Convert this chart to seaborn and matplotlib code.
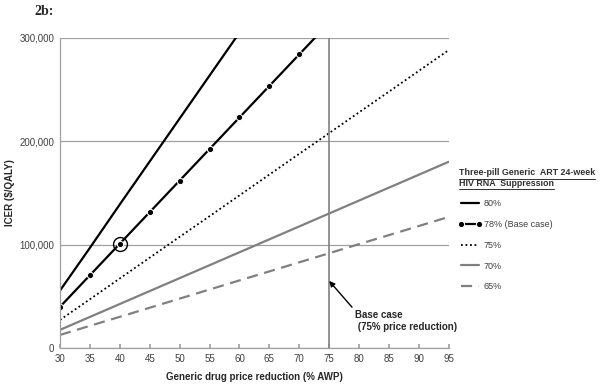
import numpy as np
import pandas as pd
import seaborn as sns
import matplotlib.pyplot as plt
from matplotlib.lines import Line2D

price_red = [30, 35, 40, 45, 50, 55, 60, 65, 70, 75, 80, 85, 90, 95]
icer_80 = [55700, 97000, 139000, 180500, 222000, 263500, 305000, 346500]
icer_78 = [40000, 70500, 101000, 131500, 162000, 192500, 223000, 253500, 284000, 314500]
icer_75 = [27300, 47300, 67400, 87500, 107600, 127600, 147700, 167800, 187900, 207900,
           228000, 248000, 268100, 288200]
icer_70 = [17700, 30200, 42700, 55200, 67700, 80200, 92700, 105200, 117700, 130200,
           142700, 155200, 167700, 180200]
icer_65 = [12800, 21600, 30300, 39100, 47900, 56700, 65500, 74200, 83000, 91800,
           100600, 109300, 118100, 126900]
labels = ['80%', '78% (Base case)', '75%', '70%', '65%']
base_point = (40, 101000)
base_x = 75

sns.set_theme(style='white')
plt.rcParams['font.family'] = ['Liberation Sans', 'DejaVu Sans']

fig = plt.figure(figsize=(6, 3.86), dpi=100)
ax = fig.add_axes([0.1, 0.098, 0.648, 0.804])

series = [icer_80, icer_78, icer_75, icer_70, icer_65]
styles = [
    dict(color='black', lw=1.6, ls='-'),
    dict(color='black', lw=1.6, ls='-', marker='o', markersize=4.5),
    dict(color='black', lw=1.3, ls=(0, (1, 1.5))),
    dict(color='#808080', lw=1.6, ls='-'),
    dict(color='#808080', lw=1.6, ls=(0, (5, 3))),
]
for vals, lab, st in zip(series, labels, styles):
    d = pd.DataFrame({'x': price_red[:len(vals)], 'y': vals})
    sns.lineplot(data=d, x='x', y='y', ax=ax, label=lab, **st)

ax.plot(*base_point, marker='o', markersize=10, mfc='none', mec='black', mew=1.0)
ax.axvline(base_x, color='#808080', lw=1.2)

ax.set_xlim(30, 95)
ax.set_ylim(0, 300000)
ax.set_xticks(np.arange(30, 96, 5))
ax.set_yticks([0, 100000, 200000, 300000])
ax.set_yticklabels(['0', '100,000', '200,000', '300,000'])
ax.yaxis.grid(True, color='#a0a0a0', lw=0.9)
ax.tick_params(axis='both', labelsize=7, colors='#404040', length=0, pad=4)
ax.tick_params(axis='x', direction='in', length=3, color='#a0a0a0', bottom=True)
for s in ['top', 'right']:
    ax.spines[s].set_visible(False)
for s in ['left', 'bottom']:
    ax.spines[s].set_color('#a0a0a0')
    ax.spines[s].set_linewidth(0.9)

ax.set_xlabel('Generic drug price reduction (% AWP)', fontsize=7, fontweight='bold', labelpad=6)
ax.set_ylabel('ICER ($/QALY)', fontsize=7, fontweight='bold', labelpad=3)

ax.annotate('Base case\n (75% price reduction)', xy=(75, 65000), xytext=(79.3, 26000),
            fontsize=7, fontweight='bold', ha='left', va='center',
            arrowprops=dict(arrowstyle='-|>', color='black', lw=1.0, mutation_scale=8,
                            shrinkA=0, shrinkB=0, relpos=(0, 1)))

handles, labs = ax.get_legend_handles_labels()
if ax.legend_:
    ax.legend_.remove()
leg = fig.legend(handles, labs, loc='upper left', bbox_to_anchor=(0.751, 0.585),
                 frameon=False, fontsize=6.5, handlelength=2.6, handletextpad=0.15,
                 labelspacing=1.3, labelcolor='#404040', numpoints=2,
                 title='Three-pill Generic  ART 24-week\nHIV RNA  Suppression',
                 title_fontproperties={'size': 6.4, 'weight': 'bold'})
leg._legend_box.align = 'left'
leg.get_title().set_color('#303030')

# underline the legend title
fig.canvas.draw()
r = fig.canvas.get_renderer()
tb = leg.get_title().get_window_extent(r)
tmp = fig.text(0, 0, 'HIV RNA  Suppression', fontsize=6.4, fontweight='bold')
w2 = tmp.get_window_extent(r).width
tmp.remove()
W, H = fig.bbox.width, fig.bbox.height
half = tb.height / 2
for y0, w in [(tb.y0 + half - 1, tb.width), (tb.y0 - 1, w2)]:
    fig.add_artist(Line2D([tb.x0 / W, (tb.x0 + w) / W], [y0 / H, y0 / H],
                          color='#303030', lw=0.7))

fig.text(0.058, 0.969, '2b:', fontsize=10, fontweight='bold', family='Liberation Serif',
         va='center')

fig.savefig('out.png', dpi=100)
